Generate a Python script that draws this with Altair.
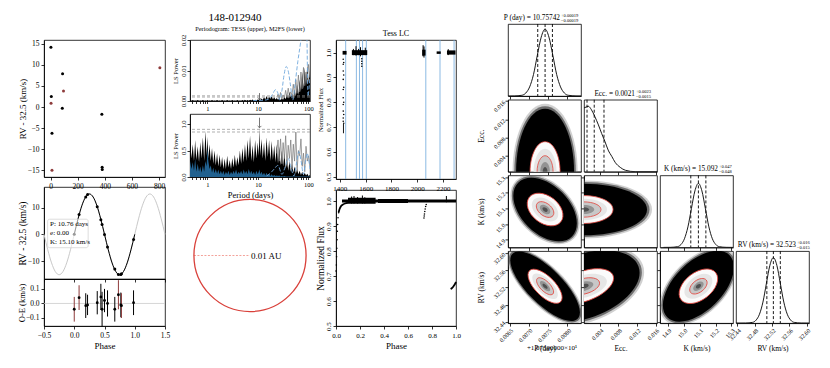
import altair as alt
import pandas as pd

FONT = "Liberation Serif"

# ============================ DATA ============================
# --- RV time series (days, km/s) ---
rv_time = [2, 5, 3, 10, 10, 88, 95, 86, 378, 380, 381, 806]
rv_value = [14.2, 2.5, 0.9, -6.2, -15.0, 7.9, 3.8, -0.3, -1.7, -14.3, -14.8, 9.3]
rv_inst = ["A", "A", "B", "A", "B", "A", "B", "A", "A", "A", "A", "B"]

# --- phase-folded RV ---
ph_phase = [0.00, 0.08, 0.19, 0.22, 0.38, 0.44, 0.46, 0.50, 0.55, 0.67, 0.73, 0.77, 0.78, 0.98]
ph_rv = [0.0, 7.4, 14.0, 14.9, 10.3, 5.5, 3.7, -0.1, -4.7, -13.0, -15.0, -15.0, -14.7, -1.9]
ph_oe = [-0.040, 0.040, -0.015, -0.010, 0.005, 0.045, -0.040, 0.020, 0.000, -0.040, 0.060, -0.010, -0.015, 0.005]
ph_err = [0.085, 0.085, 0.085, 0.070, 0.080, 0.090, 0.120, 0.080, 0.090, 0.085, 0.100, 0.085, 0.085, 0.085]
ph_inst = ["B", "B", "A", "A", "A", "A", "A", "A", "A", "A", "B", "A", "B", "A"]

model_phase = [-0.5, -0.4375, -0.375, -0.3125, -0.25, -0.1875, -0.125, -0.0625,
               0.0, 0.0625, 0.125, 0.1875, 0.25, 0.3125, 0.375, 0.4375,
               0.5, 0.5625, 0.625, 0.6875, 0.75, 0.8125, 0.875, 0.9375,
               1.0, 1.0625, 1.125, 1.1875, 1.25, 1.3125, 1.375, 1.4375, 1.5]
model_rv = [0.0, -5.78, -10.68, -13.95, -15.1, -13.95, -10.68, -5.78,
            0.0, 5.78, 10.68, 13.95, 15.1, 13.95, 10.68, 5.78,
            0.0, -5.78, -10.68, -13.95, -15.1, -13.95, -10.68, -5.78,
            0.0, 5.78, 10.68, 13.95, 15.1, 13.95, 10.68, 5.78, 0.0]
fit_labels = ["P: 10.76 days", "e: 0.00", "K: 15.10 km/s"]
fit_label_rv = [4.0, 0.6, -2.8]

# --- periodograms ---
star_name = "148-012940"
best_period = 10.76
pg_period = [0.45, 0.48, 0.51, 0.54, 0.57, 0.60, 0.64, 0.68, 0.72, 0.76,
             0.81, 0.86, 0.91, 0.96, 1.00, 1.04, 1.10, 1.16, 1.23, 1.30,
             1.38, 1.46, 1.55, 1.64, 1.74, 1.84, 1.95, 2.07, 2.19, 2.32,
             2.46, 2.61, 2.76, 2.93, 3.10, 3.29, 3.48, 3.69, 3.91, 4.14,
             4.39, 4.65, 4.93, 5.23, 5.54, 5.87, 6.22, 6.59, 6.99, 7.40,
             7.85, 8.31, 8.81, 9.34, 9.90, 10.40, 10.76, 11.12, 11.78, 12.49,
             13.23, 14.02, 14.86, 15.75, 16.69, 17.69, 18.75, 19.87, 21.06, 22.32,
             23.66, 25.07, 26.57, 28.16, 29.85, 31.64, 33.53, 35.54, 37.66, 39.92,
             42.31, 44.84, 47.53, 50.37, 53.39, 56.58, 59.97, 63.56, 67.36, 71.40,
             75.67, 80.20, 85.00, 90.09, 95.48, 101.2, 107.8]
up_black = [0.0003, 0.0001, 0.0003, 0.0001, 0.0002, 0.0001, 0.0003, 0.0001, 0.0002, 0.0001,
            0.0003, 0.0001, 0.0002, 0.0001, 0.0003, 0.0001, 0.0002, 0.0001, 0.0003, 0.0001,
            0.0002, 0.0001, 0.0003, 0.0001, 0.0002, 0.0001, 0.0003, 0.0001, 0.0002, 0.0001,
            0.0003, 0.0001, 0.0002, 0.0001, 0.0003, 0.0001, 0.0002, 0.0001, 0.0003, 0.0001,
            0.0002, 0.0001, 0.0003, 0.0001, 0.0004, 0.0001, 0.0003, 0.0001, 0.0004, 0.0002,
            0.0005, 0.0002, 0.0004, 0.0002, 0.0005, 0.0003, 0.0008, 0.0003, 0.0007, 0.0004,
            0.0012, 0.0005, 0.0016, 0.0006, 0.0014, 0.0007, 0.0015, 0.0006, 0.0012, 0.0005,
            0.0010, 0.0004, 0.0009, 0.0003, 0.0008, 0.0004, 0.0015, 0.0006, 0.0022, 0.0008,
            0.0030, 0.0012, 0.0025, 0.0010, 0.0038, 0.0015, 0.0055, 0.0020, 0.0070, 0.0030,
            0.0095, 0.0040, 0.0110, 0.0050, 0.0120, 0.0060, 0.0100]
up_gray = [0.0012, 0.0022, 0.0008, 0.0028, 0.0006, 0.0020, 0.0010, 0.0035, 0.0012, 0.0042,
           0.0015, 0.0030, 0.0020, 0.0055, 0.0018, 0.0070, 0.0025, 0.0085, 0.0030, 0.0095,
           0.0040, 0.0110, 0.0050, 0.0095, 0.0060, 0.0120, 0.0080]
up_blue_p = [8, 11, 14, 17, 19.5, 22.3, 25, 27, 30, 33, 36.4, 40, 44, 49, 55, 62, 70, 76.5, 82, 88.8, 94, 98.6, 103, 108]
up_blue_v = [0.0001, 0.0002, 0.0003, 0.0008, 0.0022, 0.0037, 0.0025, 0.0003, 0.0035, 0.0085, 0.0113, 0.0098,
             0.0055, 0.0003, 0.006, 0.013, 0.019, 0.024, 0.028, 0.03, 0.02, 0.0015, 0.004, 0.008]
lo_black = [0.78, 0.35, 0.62, 0.30, 0.70, 0.32, 0.58, 0.28, 0.66, 0.35,
            0.75, 0.30, 0.87, 0.40, 0.76, 0.35, 0.62, 0.30, 0.55, 0.25,
            0.50, 0.22, 0.45, 0.20, 0.42, 0.18, 0.38, 0.15, 0.35, 0.15,
            0.40, 0.18, 0.32, 0.15, 0.36, 0.18, 0.42, 0.20, 0.38, 0.22,
            0.50, 0.25, 0.55, 0.28, 0.62, 0.30, 0.70, 0.35, 0.78, 0.30,
            0.60, 0.28, 0.70, 0.35, 0.65, 0.40, 0.92, 0.40, 0.72, 0.35,
            0.65, 0.30, 0.75, 0.38, 0.70, 0.30, 0.68, 0.32, 0.60, 0.28,
            0.62, 0.25, 0.58, 0.22, 0.50, 0.20, 0.45, 0.15, 0.35, 0.12,
            0.30, 0.10, 0.25, 0.08, 0.20, 0.06, 0.15, 0.05, 0.12, 0.04,
            0.10, 0.03, 0.08, 0.03, 0.06, 0.02, 0.04]
lo_gray = [0.45, 0.70, 0.30, 0.72, 0.25, 0.65, 0.35, 0.78, 0.20, 0.60,
           0.35, 0.70, 0.15, 0.62, 0.30, 0.85, 0.12, 0.50, 0.40, 0.72,
           0.20, 0.45, 0.10, 0.58, 0.30, 0.40, 0.20]
lo_blue = [0.30, 0.15, 0.28, 0.12, 0.35, 0.10, 0.25, 0.10, 0.20, 0.08,
           0.22, 0.10, 0.30, 0.20, 0.55, 0.30, 0.15, 0.22, 0.08, 0.18,
           0.07, 0.15, 0.06, 0.14, 0.05, 0.12, 0.05, 0.12, 0.04, 0.10,
           0.05, 0.12, 0.04, 0.10, 0.05, 0.12, 0.06, 0.14, 0.05, 0.10,
           0.06, 0.12, 0.05, 0.14, 0.06, 0.12, 0.05, 0.15, 0.06, 0.12,
           0.05, 0.10, 0.04, 0.12, 0.05, 0.10, 0.14, 0.05, 0.10, 0.04,
           0.08, 0.03, 0.08, 0.03, 0.06, 0.02, 0.05, 0.02, 0.04, 0.02,
           0.03, 0.02, 0.03, 0.01, 0.02, 0.01, 0.02, 0.01, 0.01, 0.01,
           0.01, 0.01, 0.01, 0.01, 0.01, 0.01, 0.01, 0.01, 0.01, 0.01,
           0.01, 0.01, 0.01, 0.01, 0.01, 0.01, 0.01]
lo_blue2_p = [15, 18, 21, 25, 30, 35, 40, 46, 52, 58, 65, 72, 80, 88, 95, 101, 108]
lo_blue2_v = [0.02, 0.08, 0.15, 0.22, 0.05, 0.20, 0.35, 0.15, 0.02, 0.25, 0.48, 0.30, 0.05, 0.30, 0.45, 0.35, 0.15]
fap_up = [0.0013, 0.0017]
fap_lo = [0.85, 0.90]

# --- orbit ---
orbit_au = 0.01

# --- TESS light curve ---
lc_band_t0 = [1421, 1493, 2038, 2150, 2230, 1424]
lc_band_t1 = [1452, 1612, 2064, 2182, 2296, 1431]
lc_band_f0 = [0.992, 0.990, 0.988, 0.995, 0.992, 0.675]
lc_band_f1 = [1.007, 1.010, 1.012, 1.005, 1.009, 0.712]
lc_spike_t = [1505, 1525, 1545, 1560, 1597, 2045, 2052, 2240]
lc_spike_lo = [0.990, 0.988, 0.990, 0.985, 0.990, 0.985, 0.980, 0.990]
lc_spike_hi = [1.015, 1.026, 1.015, 1.022, 1.020, 1.030, 1.025, 1.014]
lc_dot_t = [1426, 1426, 1426, 1426, 1426, 1426, 1426, 1426, 1426, 1426,
            1430, 1430, 1430, 1430, 1430, 1430, 1570, 1570, 1570, 1570]
lc_dot_f = [0.973, 0.953, 0.926, 0.892, 0.851, 0.818, 0.791, 0.764, 0.736, 0.723,
            0.960, 0.910, 0.860, 0.800, 0.750, 0.715, 0.975, 0.965, 0.955, 0.945]
lc_sector_t = [1445, 1528, 1552, 1576, 1605, 2066, 2176, 2285]

# --- folded light curve ---
lcp_band_p0 = [0.05, 0.10, 0.35]
lcp_band_p1 = [1.00, 0.33, 0.60]
lcp_band_f0 = [0.994, 0.989, 0.992]
lcp_band_f1 = [1.006, 1.013, 1.008]
lcp_spike_p = [0.13, 0.15, 0.18, 0.22, 0.24, 0.92]
lcp_spike_lo = [0.990, 0.990, 0.990, 0.990, 0.990, 0.995]
lcp_spike_hi = [1.018, 1.020, 1.016, 1.022, 1.015, 1.020]
lcp_in_p = [0.000, 0.003, 0.005, 0.007, 0.009, 0.011, 0.014, 0.017, 0.022]
lcp_in_f = [0.720, 0.744, 0.777, 0.811, 0.845, 0.879, 0.906, 0.933, 0.953]
lcp_curve_p = [0.022, 0.030, 0.040, 0.055, 0.075, 0.100]
lcp_curve_f = [0.955, 0.968, 0.978, 0.985, 0.990, 0.993]
lcp_dip_p = [0.733, 0.735, 0.737, 0.740, 0.743, 0.747, 0.752]
lcp_dip_f = [0.932, 0.940, 0.948, 0.958, 0.968, 0.978, 0.986]
lcp_end_p = [0.955, 0.965, 0.975, 0.985, 0.995, 1.000]
lcp_end_f = [0.648, 0.651, 0.656, 0.663, 0.671, 0.676]

# --- corner plot: marginal posteriors ---
P_hist_x = [0.00642, 0.00662, 0.00682, 0.00692, 0.00702, 0.00712, 0.00722, 0.00732, 0.00742,
            0.00752, 0.00762, 0.00772, 0.00782, 0.00792, 0.00802, 0.00822, 0.00842]
P_hist_h = [0.0, 0.001, 0.010, 0.041, 0.126, 0.298, 0.567, 0.818, 0.93,
            0.818, 0.567, 0.298, 0.126, 0.041, 0.010, 0.001, 0.0]
P_q = [0.00723, 0.00742, 0.00761]
E_hist_x = [0.0006, 0.00075, 0.0015, 0.0022, 0.0029, 0.0037, 0.0044, 0.0051, 0.0058,
            0.0066, 0.0073, 0.0084, 0.0095, 0.0117, 0.0163]
E_hist_h = [0.89, 0.89, 0.91, 0.86, 0.77, 0.65, 0.53, 0.42, 0.30, 0.21, 0.13, 0.06, 0.02, 0.0, 0.0]
E_q = [0.00125, 0.0028, 0.0049]
K_hist_x = [14.872, 14.916, 14.960, 14.982, 15.004, 15.026, 15.048, 15.070, 15.092,
            15.114, 15.136, 15.158, 15.180, 15.202, 15.224, 15.268, 15.312]
K_hist_h = [0.0, 0.001, 0.010, 0.039, 0.120, 0.285, 0.540, 0.785, 0.89,
            0.785, 0.540, 0.285, 0.120, 0.039, 0.010, 0.001, 0.0]
K_q = [15.044, 15.092, 15.139]
R_hist_x = [32.427, 32.459, 32.475, 32.483, 32.491, 32.499, 32.507, 32.515, 32.523,
            32.531, 32.539, 32.547, 32.555, 32.563, 32.571, 32.587, 32.619]
R_hist_h = [0.0, 0.001, 0.010, 0.040, 0.123, 0.292, 0.552, 0.803, 0.91,
            0.803, 0.552, 0.292, 0.123, 0.040, 0.010, 0.001, 0.0]
R_q = [32.508, 32.523, 32.539]
hist_titles = {
    "P": ("P (day) = 10.75742", "+0.00019", "\u22120.00019"),
    "E": ("Ecc. = 0.0021", "+0.0023", "\u22120.0015"),
    "K": ("K (km/s) = 15.092", "+0.047", "\u22120.048"),
    "R": ("RV (km/s) = 32.523", "+0.016", "\u22120.015"),
}
# 2-D posterior centres
dens_panels = ["PE", "PK", "PR", "EK", "ER", "KR"]
dens_cx = [0.00742, 0.00742, 0.00742, 0.0006, 0.0006, 15.092]
dens_cy = [0.0006, 15.092, 32.523, 15.092, 32.523, 32.523]

# ============================ STYLE ============================
INST = alt.Scale(domain=["A", "B"], range=["#000000", "#8e3b3b"])
NOFRAME = alt.ViewBackground(stroke="transparent")
CW, CH = 73, 72
DOM = {"P": [0.00646, 0.00835], "E": [0.0006, 0.0163], "K": [14.85, 15.31], "R": [32.437, 32.605]}
TICKS = {"P": [0.0065, 0.0070, 0.0075, 0.0080], "E": [0.004, 0.008, 0.012, 0.016],
         "K": [14.9, 15.0, 15.1, 15.2, 15.3], "R": [32.44, 32.48, 32.52, 32.56, 32.60]}
FMT = {"P": ".4f", "E": ".3f", "K": ".1f", "R": ".2f"}
VTITLE = {"P": "P (day)", "E": "Ecc.", "K": "K (km/s)", "R": "RV (km/s)"}
TITLE_XR = {"P": 52, "E": 51, "K": 58, "R": 60}
# ellipse shapes (semi-major px, axis ratio, angle) for outer cloud / 2-sigma / 1-sigma
ELL = {
    "PE": [(63, 0.46, 90), (30, 0.50, 90), (16, 0.50, 90)],
    "PK": [(38, 0.63, 45), (20, 0.68, 38), (10, 0.62, 38)],
    "PR": [(46, 0.38, 45), (22, 0.45, 45), (11, 0.45, 45)],
    "EK": [(63, 0.41, 0), (29, 0.48, 0), (17, 0.45, 0)],
    "ER": [(58, 0.55, 340), (31, 0.48, 340), (16, 0.48, 345)],
    "KR": [(44, 0.55, 315), (22, 0.62, 322), (10, 0.60, 322)],
}
# layout: every column gets an invisible box (left pad, right pad) reaching TOPPAD above its origin
TOPPAD = 13
SLOT = {"c1": (33, 5), "c2": (18, 3.5), "c3": (20.5, 7), "corner": (43, 0)}

frame_df = pd.DataFrame({"a": [0]})


def frame_box(left, right_edge):
    return alt.Chart(frame_df).mark_rect(opacity=0).encode(
        x=alt.value(-left), x2=alt.value(right_edge), y=alt.value(-TOPPAD), y2=alt.value(0))


def lin(dom):
    return alt.Scale(domain=dom, nice=False, zero=False)


spacer_df = pd.DataFrame({"a": [0]})


def blank_layers():
    return alt.Chart(spacer_df).mark_point(opacity=0).encode(
        x=alt.X("a:Q", axis=None), y=alt.Y("a:Q", axis=None))


def blank(w, h):
    return blank_layers().properties(width=w, height=h, view=NOFRAME)


def top_blank(w, h, slot, *extra):
    return alt.layer(blank_layers(), frame_box(slot[0], w + slot[1]), *extra).properties(
        width=w, height=h, view=NOFRAME)


# ============================ COLUMN 1 ============================
rv_df = pd.DataFrame({"t": rv_time, "rv": rv_value, "inst": rv_inst})
rv_time_chart = alt.Chart(rv_df).mark_circle(size=9, opacity=1).encode(
    x=alt.X("t:Q", scale=lin([-49, 844]), axis=alt.Axis(values=[0, 200, 400, 600, 800], title=None)),
    y=alt.Y("rv:Q", scale=lin([-16.6, 15.9]),
            axis=alt.Axis(values=[-15, -10, -5, 0, 5, 10, 15], title="RV - 32.5 (km/s)", titleX=-17)),
    color=alt.Color("inst:N", scale=INST, legend=None),
).properties(width=121, height=137)

PH_AX = alt.Axis(values=[-0.5, 0, 0.5, 1, 1.5], labels=False, title=None)
RVP_AX = alt.Axis(values=[-10, 0, 10], title="RV - 32.5 (km/s)", titleFontSize=9.5, titleX=-17)


def phx(f):
    return alt.X(f"{f}:Q", scale=lin([-0.5, 1.5]), axis=PH_AX)


def phy(f):
    return alt.Y(f"{f}:Q", scale=lin([-16.7, 17.7]), axis=RVP_AX)


model_df = pd.DataFrame({"phase": model_phase, "rv": model_rv})
ph_df = pd.DataFrame({"phase": ph_phase, "rv": ph_rv, "oe": ph_oe, "err": ph_err, "inst": ph_inst})
box_df = pd.DataFrame({"x0": [-0.44], "x1": [0.23], "y0": [-5.0], "y1": [5.65]})
fit_df = pd.DataFrame({"label": fit_labels, "x": [-0.40] * 3, "y": fit_label_rv})

phase_chart = alt.layer(
    alt.Chart(model_df).mark_line(color="#c9c9c9", strokeWidth=1, interpolate="monotone").encode(
        x=phx("phase"), y=phy("rv")),
    alt.Chart(model_df).transform_filter("datum.phase >= 0 && datum.phase <= 1").mark_line(
        color="black", strokeWidth=1, interpolate="monotone").encode(x=phx("phase"), y=phy("rv")),
    alt.Chart(ph_df).mark_circle(size=9, color="black", opacity=1).encode(x=phx("phase"), y=phy("rv")),
    alt.Chart(box_df).mark_rect(fill="white", fillOpacity=0.6, stroke="#cfcfcf", strokeWidth=0.7,
                                cornerRadius=2).encode(x=phx("x0"), x2="x1:Q", y=phy("y0"), y2="y1:Q"),
    alt.Chart(fit_df).mark_text(align="left", font=FONT, fontSize=7).encode(
        x=phx("x"), y=phy("y"), text="label:N"),
).properties(width=121, height=92)

OE_XAX = alt.Axis(values=[-0.5, 0, 0.5, 1, 1.5], format=".1f", title="Phase", titleFontSize=9)
OE_YAX = alt.Axis(values=[-0.1, 0, 0.1], format=".1f", title="O-E (km/s)", titleFontSize=8.5, titleX=-18)


def oex(f):
    return alt.X(f"{f}:Q", scale=lin([-0.5, 1.5]), axis=OE_XAX)


def oey(f):
    return alt.Y(f"{f}:Q", scale=lin([-0.155, 0.168]), axis=OE_YAX)


zero_df = pd.DataFrame({"z": [0.0]})
oe_chart = alt.layer(
    alt.Chart(zero_df).mark_rule(color="#cccccc", strokeWidth=0.8).encode(y=oey("z")),
    alt.Chart(ph_df).transform_calculate(lo="datum.oe - datum.err", hi="datum.oe + datum.err").mark_rule(
        strokeWidth=1).encode(x=oex("phase"), y=oey("lo"), y2="hi:Q",
                              color=alt.Color("inst:N", scale=INST, legend=None)),
    alt.Chart(ph_df).mark_circle(size=8, color="black", opacity=1).encode(x=oex("phase"), y=oey("oe")),
).properties(width=121, height=47)

# ============================ COLUMN 2 ============================
pg_ticks = [0.5, 0.6, 0.7, 0.8, 0.9, 1, 2, 3, 4, 5, 6, 7, 8, 9, 10, 20, 30, 40, 50, 60, 70, 80, 90, 100]
LBL = "datum.value == 1 || datum.value == 10 || datum.value == 100 ? datum.label : ''"
PGX_UP = alt.Axis(values=pg_ticks, labelExpr=LBL, format="~g", title=None, tickSize=2.5, labelFontSize=6.5)
PGX_LO = alt.Axis(values=pg_ticks, labelExpr=LBL, format="~g", title="Period (days)", titleFontSize=8.5,
                  tickSize=2.5, labelFontSize=6.5, titlePadding=2)
LOGSC = alt.Scale(type="log", domain=[0.45, 108], nice=False)
PGY_UP = alt.Axis(values=[0, 0.01, 0.02], format=".2f", labelAngle=270, labelAlign="center",
                  labelBaseline="bottom", labelPadding=1, title="LS Power", titleFontSize=6.5,
                  labelFontSize=6.5, titleX=-11.5)
PGY_LO = alt.Axis(values=[0, 0.5, 1.0], format=".1f", labelAngle=270, labelAlign="center",
                  labelBaseline="bottom", labelPadding=1, title="LS Power", titleFontSize=6.5,
                  labelFontSize=6.5, titleX=-11.5)


def pgx(f, ax):
    return alt.X(f"{f}:Q", scale=LOGSC, axis=ax)


def upy(f):
    return alt.Y(f"{f}:Q", scale=lin([0, 0.02]), axis=PGY_UP)


def loy(f):
    return alt.Y(f"{f}:Q", scale=lin([0, 1.19]), axis=PGY_LO)


up_black_df = pd.DataFrame({"p": pg_period, "v": up_black})
up_gray_df = pd.DataFrame({"p": pg_period[70:], "v": up_gray})
up_blue_df = pd.DataFrame({"p": up_blue_p, "v": up_blue_v})
lo_black_df = pd.DataFrame({"p": pg_period, "v": lo_black})
lo_gray_df = pd.DataFrame({"p": pg_period[70:], "v": lo_gray})
lo_blue_df = pd.DataFrame({"p": pg_period, "v": lo_blue})
lo_blue2_df = pd.DataFrame({"p": lo_blue2_p, "v": lo_blue2_v})
fap_up_df = pd.DataFrame({"v": fap_up})
fap_lo_df = pd.DataFrame({"v": fap_lo})
arrow_up_df = pd.DataFrame({"p": [best_period], "v": [0.0026], "v2": [0.0004]})
arrow_lo_df = pd.DataFrame({"p": [best_period], "v": [1.12], "v2": [0.93]})
name_df = pd.DataFrame({"name": [star_name]})
HEAD = "M -1 -1 L 0 0 L 1 -1"

pg_up = alt.layer(
    alt.Chart(up_black_df).mark_area(color="black", clip=True).encode(x=pgx("p", PGX_UP), y=upy("v")),
    alt.Chart(up_gray_df).mark_line(color="#777777", strokeWidth=0.7, clip=True).encode(
        x=pgx("p", PGX_UP), y=upy("v")),
    alt.Chart(up_blue_df).mark_line(color="#6fa8dc", strokeWidth=0.9, strokeDash=[4, 2], clip=True,
                                    interpolate="monotone").encode(x=pgx("p", PGX_UP), y=upy("v")),
    alt.Chart(fap_up_df).mark_rule(color="#8c8c8c", strokeWidth=0.7, strokeDash=[3, 2]).encode(y=upy("v")),
    alt.Chart(arrow_up_df).mark_rule(color="#555555", strokeWidth=0.8).encode(
        x=pgx("p", PGX_UP), y=upy("v"), y2="v2:Q"),
    alt.Chart(arrow_up_df).mark_point(shape=HEAD, size=14, filled=False, color="#555555",
                                      strokeWidth=0.8, opacity=1).encode(x=pgx("p", PGX_UP), y=upy("v2")),
).properties(width=120, height=61,
             title=alt.TitleParams("Periodogram: TESS (upper), M2FS (lower)", fontSize=6.3, offset=2))

pg_lo = alt.layer(
    alt.Chart(lo_black_df).mark_area(color="black", clip=True).encode(x=pgx("p", PGX_LO), y=loy("v")),
    alt.Chart(lo_gray_df).mark_line(color="#777777", strokeWidth=0.7, clip=True).encode(
        x=pgx("p", PGX_LO), y=loy("v")),
    alt.Chart(lo_blue_df).mark_area(color="#21618f", clip=True).encode(x=pgx("p", PGX_LO), y=loy("v")),
    alt.Chart(lo_blue2_df).mark_line(color="#6fa8dc", strokeWidth=0.9, strokeDash=[4, 2], clip=True,
                                     interpolate="monotone").encode(x=pgx("p", PGX_LO), y=loy("v")),
    alt.Chart(fap_lo_df).mark_rule(color="#8c8c8c", strokeWidth=0.7, strokeDash=[3, 2]).encode(y=loy("v")),
    alt.Chart(arrow_lo_df).mark_rule(color="#555555", strokeWidth=0.8).encode(
        x=pgx("p", PGX_LO), y=loy("v"), y2="v2:Q"),
    alt.Chart(arrow_lo_df).mark_point(shape=HEAD, size=14, filled=False, color="#555555",
                                      strokeWidth=0.8, opacity=1).encode(x=pgx("p", PGX_LO), y=loy("v2")),
).properties(width=120, height=63)

ORB_W, ORB_H = 120, 131
orb_half_x = 0.0107
orb_half_y = orb_half_x * ORB_H / ORB_W
orb_px = orbit_au * ORB_W / (2 * orb_half_x)
orbit_df = pd.DataFrame({"x": [0.0], "y": [0.0], "r": [orbit_au], "label": [f"{orbit_au} AU"]})
OX = alt.X("x:Q", scale=lin([-orb_half_x, orb_half_x]), axis=None)
OY = alt.Y("y:Q", scale=lin([-orb_half_y, orb_half_y]), axis=None)
orbit_chart = alt.layer(
    alt.Chart(orbit_df).transform_calculate(xl="-datum.r").mark_rule(
        color="#f08a80", strokeWidth=0.8, strokeDash=[2, 1.5]).encode(
        x=alt.X("xl:Q", scale=lin([-orb_half_x, orb_half_x]), axis=None), x2="x:Q", y=OY),
    alt.Chart(orbit_df).mark_point(shape="circle", filled=False, color="#d9403a", strokeWidth=1.3,
                                   opacity=1, size=(2 * orb_px) ** 2).encode(x=OX, y=OY),
    alt.Chart(orbit_df).mark_text(align="left", baseline="middle", dx=1, font=FONT, fontSize=9).encode(
        x=OX, y=OY, text="label:N"),
).properties(width=ORB_W, height=ORB_H, view=NOFRAME)

# ============================ COLUMN 3 ============================
LC_XAX = alt.Axis(values=[1400, 1600, 1800, 2000, 2200], format="d", title=None, labelFontSize=7)
LC_YAX = alt.Axis(values=[0.5, 0.6, 0.7, 0.8, 0.9, 1.0], format=".1f", labelAngle=270, labelAlign="center",
                  labelBaseline="bottom", labelPadding=1.5, title="Normalized Flux", titleFontSize=6.5,
                  labelFontSize=7, titleX=-13)


def lcx(f):
    return alt.X(f"{f}:Q", scale=lin([1370, 2300]), axis=LC_XAX)


def lcy(f):
    return alt.Y(f"{f}:Q", scale=lin([0.49, 1.051]), axis=LC_YAX)


lc_band_df = pd.DataFrame({"t0": lc_band_t0, "t1": lc_band_t1, "f0": lc_band_f0, "f1": lc_band_f1})
lc_spike_df = pd.DataFrame({"t": lc_spike_t, "lo": lc_spike_lo, "hi": lc_spike_hi})
lc_dot_df = pd.DataFrame({"t": lc_dot_t, "f": lc_dot_f})
lc_sector_df = pd.DataFrame({"t": lc_sector_t})

lc_chart = alt.layer(
    alt.Chart(lc_sector_df).mark_rule(color="#6fa8dc", strokeWidth=0.8).encode(x=lcx("t")),
    alt.Chart(lc_band_df).mark_rect(color="black").encode(x=lcx("t0"), x2="t1:Q", y=lcy("f0"), y2="f1:Q"),
    alt.Chart(lc_spike_df).mark_rule(color="black", strokeWidth=1).encode(x=lcx("t"), y=lcy("lo"), y2="hi:Q"),
    alt.Chart(lc_dot_df).mark_circle(size=2.5, color="black", opacity=1).encode(x=lcx("t"), y=lcy("f")),
).properties(width=120, height=139, title=alt.TitleParams("Tess LC", fontSize=8, offset=2))

LCP_XAX = alt.Axis(values=[0, 0.2, 0.4, 0.6, 0.8, 1.0], format=".1f", title="Phase", titleFontSize=9,
                   labelFontSize=7)
LCP_YAX = alt.Axis(values=[0.5, 0.6, 0.7, 0.8, 0.9, 1.0], format=".1f", labelAngle=270, labelAlign="center",
                   labelBaseline="bottom", labelPadding=1.5, title="Normalized Flux", titleFontSize=9.5,
                   labelFontSize=7, titleX=-11)


def lpx(f):
    return alt.X(f"{f}:Q", scale=lin([0, 1]), axis=LCP_XAX)


def lpy(f):
    return alt.Y(f"{f}:Q", scale=lin([0.5, 1.044]), axis=LCP_YAX)


lcp_band_df = pd.DataFrame({"p0": lcp_band_p0, "p1": lcp_band_p1, "f0": lcp_band_f0, "f1": lcp_band_f1})
lcp_spike_df = pd.DataFrame({"p": lcp_spike_p, "lo": lcp_spike_lo, "hi": lcp_spike_hi})
lcp_in_df = pd.DataFrame({"p": lcp_in_p, "f": lcp_in_f})
lcp_curve_df = pd.DataFrame({"p": lcp_curve_p, "f": lcp_curve_f})
lcp_dip_df = pd.DataFrame({"p": lcp_dip_p, "f": lcp_dip_f})
lcp_end_df = pd.DataFrame({"p": lcp_end_p, "f": lcp_end_f})

lcp_chart = alt.layer(
    alt.Chart(lcp_band_df).mark_rect(color="black").encode(x=lpx("p0"), x2="p1:Q", y=lpy("f0"), y2="f1:Q"),
    alt.Chart(lcp_spike_df).mark_rule(color="black", strokeWidth=1).encode(x=lpx("p"), y=lpy("lo"), y2="hi:Q"),
    alt.Chart(lcp_in_df).mark_circle(size=2.5, color="black", opacity=1).encode(x=lpx("p"), y=lpy("f")),
    alt.Chart(lcp_dip_df).mark_circle(size=2.5, color="black", opacity=1).encode(x=lpx("p"), y=lpy("f")),
    alt.Chart(lcp_curve_df).mark_line(color="black", strokeWidth=1.8, interpolate="monotone").encode(
        x=lpx("p"), y=lpy("f")),
    alt.Chart(lcp_end_df).mark_line(color="black", strokeWidth=1.8, interpolate="monotone").encode(
        x=lpx("p"), y=lpy("f")),
).properties(width=120, height=136)

# ============================ CORNER PLOT ============================


def corner_x(var, labels):
    if labels:
        return alt.Axis(values=TICKS[var], format=FMT[var], labelAngle=315, labelAlign="right",
                        labelBaseline="top", labelFontSize=6, labelPadding=1, title=VTITLE[var],
                        titleFontSize=7.5, titleY=21, tickSize=3)
    return alt.Axis(values=TICKS[var], labels=False, title=None, tickSize=3)


def corner_y(var, labels):
    if labels:
        return alt.Axis(values=TICKS[var], format=FMT[var], labelAngle=315, labelAlign="right",
                        labelBaseline="middle", labelFontSize=6, labelPadding=1, title=VTITLE[var],
                        titleFontSize=7.5, titleX=-23, tickSize=3)
    return alt.Axis(values=TICKS[var], labels=False, title=None, tickSize=3)


def ellipse_path(a):
    k = 0.5523
    ka = k * a
    return (f"M 1 0 C 1 {ka:.4f} {k} {a:.4f} 0 {a:.4f} "
            f"C {-k} {a:.4f} -1 {ka:.4f} -1 0 "
            f"C -1 {-ka:.4f} {-k} {-a:.4f} 0 {-a:.4f} "
            f"C {k} {-a:.4f} 1 {-ka:.4f} 1 0 Z")


def ellipse_tables(cx, cy, ell):
    (R0, a0, g0), (Rw, aw, gw), (Ri, ai, gi) = ell
    levels = [
        (R0 * 1.08, a0 * 1.04, g0, "#777777", 0.35),
        (R0 * 1.04, a0 * 1.02, g0, "#2a2a2a", 0.6),
        (R0, a0, g0, "#000000", 1.0),
        (Rw, aw, gw, "#fbfbfb", 1.0),
        ((Rw + Ri) / 2, (aw + ai) / 2, gi, "#e6e6e6", 1.0),
        (Ri, ai, gi, "#c8c8c8", 1.0),
        (Ri * 0.6, ai, gi, "#939393", 1.0),
        (Ri * 0.3, ai, gi, "#505050", 1.0),
    ]
    fills = pd.DataFrame([dict(cx=cx, cy=cy, size=(2 * R) ** 2, shape=ellipse_path(a), ang=g, fill=f, op=o, ord=i)
                          for i, (R, a, g, f, o) in enumerate(levels)])
    lines = pd.DataFrame([dict(cx=cx, cy=cy, size=(2 * R) ** 2, shape=ellipse_path(a), ang=g)
                          for (R, a, g) in [(Rw, aw, gw), (Ri, ai, gi)]])
    return fills, lines


def dens_panel(key, xlab, ylab, extra=None):
    xv, yv = key[0], key[1]
    i = dens_panels.index(key)
    fdf, ldf = ellipse_tables(dens_cx[i], dens_cy[i], ELL[key])
    XE = alt.X("cx:Q", scale=lin(DOM[xv]), axis=corner_x(xv, xlab))
    YE = alt.Y("cy:Q", scale=lin(DOM[yv]), axis=corner_y(yv, ylab))
    layers = [
        alt.Chart(fdf).mark_point(filled=True, strokeWidth=0, clip=True).encode(
            x=XE, y=YE, size=alt.Size("size:Q", scale=None), shape=alt.Shape("shape:N", scale=None),
            angle=alt.Angle("ang:Q", scale=None), fill=alt.Fill("fill:N", scale=None),
            opacity=alt.Opacity("op:Q", scale=None), order=alt.Order("ord:Q")),
        alt.Chart(ldf).mark_point(filled=False, color="#e3463f", strokeWidth=0.8, opacity=1, clip=True).encode(
            x=XE, y=YE, size=alt.Size("size:Q", scale=None), shape=alt.Shape("shape:N", scale=None),
            angle=alt.Angle("ang:Q", scale=None)),
    ]
    if extra is not None:
        layers.append(extra)
    return alt.layer(*layers).properties(width=CW, height=CH)


def hist_panel(var, xs, hs, qs, xlab, extra=None):
    hdf = pd.DataFrame({"v": xs, "h": hs})
    qdf = pd.DataFrame({"v": qs})
    main, sup, sub = hist_titles[var]
    tdf = pd.DataFrame({"m": [main], "s": [sup], "b": [sub]})
    XA = corner_x(var, xlab)
    xr = TITLE_XR[var]
    layers = [
        alt.Chart(hdf).mark_line(color="black", strokeWidth=0.9, interpolate="monotone", clip=True).encode(
            x=alt.X("v:Q", scale=lin(DOM[var]), axis=XA), y=alt.Y("h:Q", scale=lin([0, 1]), axis=None)),
        alt.Chart(qdf).mark_rule(color="black", strokeWidth=0.9, strokeDash=[3, 2]).encode(
            x=alt.X("v:Q", scale=lin(DOM[var]), axis=XA)),
        alt.Chart(tdf).mark_text(align="right", baseline="alphabetic", font=FONT, fontSize=7.3).encode(
            x=alt.value(xr), y=alt.value(-4), text="m:N"),
        alt.Chart(tdf).mark_text(align="left", baseline="alphabetic", font=FONT, fontSize=4.5).encode(
            x=alt.value(xr + 1), y=alt.value(-7), text="s:N"),
        alt.Chart(tdf).mark_text(align="left", baseline="alphabetic", font=FONT, fontSize=4.5).encode(
            x=alt.value(xr + 1), y=alt.value(-2), text="b:N"),
    ]
    if extra is not None:
        layers.append(extra)
    return alt.layer(*layers).properties(width=CW, height=CH)


offset_df = pd.DataFrame({"o": ["+1.07500000\u00d710\u00b9"]})
offset_text = alt.Chart(offset_df).mark_text(font=FONT, fontSize=7, align="center", baseline="top").encode(
    x=alt.value(44), y=alt.value(CH + 21), text="o:N")

# ============================ LAYOUT ============================
name_text = alt.Chart(name_df).mark_text(font=FONT, fontSize=11, align="center", baseline="middle").encode(
    x=alt.value(45), y=alt.value(-6), text="name:N")

col1 = alt.vconcat(top_blank(121, 16, SLOT["c1"]), rv_time_chart, blank(121, 10), phase_chart, oe_chart,
                   spacing=0, bounds="flush")
col2 = alt.vconcat(top_blank(120, 3, SLOT["c2"], name_text), pg_up, pg_lo, orbit_chart,
                   spacing=13, bounds="flush")
col3 = alt.vconcat(top_blank(120, 5, SLOT["c3"]), lc_chart, lcp_chart, spacing=11, bounds="flush")

corner_cells = [
    hist_panel("P", P_hist_x, P_hist_h, P_q, False, frame_box(SLOT["corner"][0], 0)),
    blank(CW, CH), blank(CW, CH), blank(CW, CH),
    dens_panel("PE", False, True), hist_panel("E", E_hist_x, E_hist_h, E_q, False), blank(CW, CH), blank(CW, CH),
    dens_panel("PK", False, True), dens_panel("EK", False, False), hist_panel("K", K_hist_x, K_hist_h, K_q, False),
    blank(CW, CH),
    dens_panel("PR", True, True, offset_text), dens_panel("ER", True, False), dens_panel("KR", True, False),
    hist_panel("R", R_hist_x, R_hist_h, R_q, True),
]
corner = alt.concat(*corner_cells, columns=4, spacing=alt.RowColnumber(row=3.7, column=3), bounds="flush")

full = alt.hconcat(col1, col2, col3, corner, spacing=0, bounds="full")

chart = full.properties(
    padding={"left": 2, "top": 2, "right": 5, "bottom": 5},
    background="white",
).configure_axis(
    labelFont=FONT, titleFont=FONT, labelFontSize=7.5, titleFontSize=9, titleFontWeight="normal",
    labelColor="black", titleColor="black", domainColor="black", tickColor="black",
    domainWidth=0.8, tickWidth=0.8, tickSize=3, grid=False, labelFlush=False, labelOverlap=False,
    labelPadding=2, titlePadding=3,
).configure_view(stroke="black", strokeWidth=0.8).configure_title(
    font=FONT, fontWeight="normal", color="black", fontSize=8
).configure_text(font=FONT)

chart.save("out.html", embed_options={"renderer": "svg", "actions": False})
